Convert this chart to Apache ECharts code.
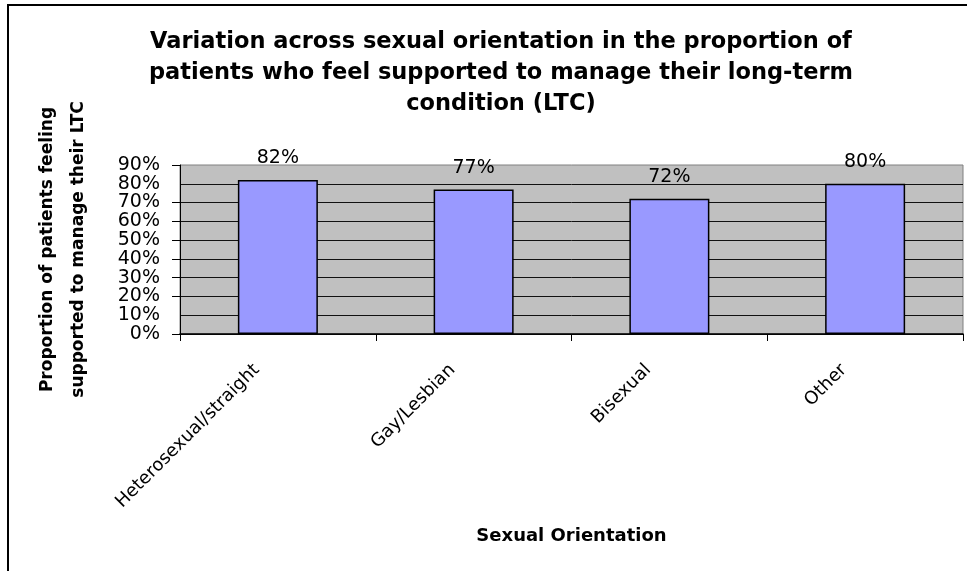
<!DOCTYPE html>
<html>
<head>
<meta charset="utf-8">
<script src="https://cdn.jsdelivr.net/npm/echarts@6/dist/echarts.min.js"></script>
<style>
  html, body { margin: 0; padding: 0; background: #fff; }
  #chart-panel { width: 967px; height: 571px; }
</style>
</head>
<body>
<div id="chart-panel"></div>
<script>
const categories = ["Heterosexual/straight", "Gay/Lesbian", "Bisexual", "Other"]
const values = [82, 77, 72, 80]
const yMin = 0
const yMax = 90
const yStep = 10

const font = "DejaVu Sans"
const chart = echarts.init(document.getElementById("chart-panel"), null, { renderer: "canvas" })

const yLabelStyle = {
  formatter: "{value}%",
  margin: 20,
  fontFamily: font,
  fontSize: 19,
  color: "#000"
}

const options = {
  backgroundColor: "#fff",
  animation: false,
  title: {
    text: "Variation across sexual orientation in the proportion of\npatients who feel supported to manage their long-term\ncondition (LTC)",
    left: 496,
    top: 22,
    textAlign: "center",
    textStyle: {
      fontFamily: font,
      fontWeight: "bold",
      fontSize: 22.5,
      lineHeight: 31,
      color: "#000"
    }
  },
  graphic: [
    {
      type: "rect",
      shape: { x: 8, y: 5, width: 1200, height: 800 },
      style: { fill: "none", stroke: "#000", lineWidth: 2 },
      silent: true
    }
  ],
  grid: {
    left: 180,
    right: 4,
    top: 165,
    bottom: 237,
    show: true,
    backgroundColor: "#C0C0C0",
    borderColor: "#808080",
    borderWidth: 1
  },
  xAxis: {
    type: "category",
    data: categories,
    name: "Sexual Orientation",
    nameLocation: "middle",
    nameGap: 193,
    nameTextStyle: {
      fontFamily: font,
      fontWeight: "bold",
      fontSize: 18,
      color: "#000"
    },
    axisLine: { lineStyle: { color: "#000", width: 1.5 } },
    axisTick: { show: true, length: 7, lineStyle: { color: "#000" } },
    axisLabel: {
      interval: 0,
      rotate: 45,
      margin: 12,
      padding: [0, 30, 0, 0],
      fontFamily: font,
      fontSize: 18,
      color: "#000"
    }
  },
  yAxis: [
    {
      type: "value",
      position: "left",
      min: yMin,
      max: yMax,
      interval: yStep,
      name: "Proportion of patients feeling\nsupported to manage their LTC",
      nameLocation: "middle",
      nameGap: 86,
      nameTextStyle: {
        fontFamily: font,
        fontWeight: "bold",
        fontSize: 17,
        lineHeight: 31,
        color: "#000"
      },
      axisLine: { show: true, lineStyle: { color: "#000", width: 1 } },
      axisTick: { show: true, length: 8, lineStyle: { color: "#000", width: 1 } },
      axisLabel: Object.assign({ showMinLabel: true, showMaxLabel: true }, yLabelStyle),
      splitLine: {
        show: true,
        showMaxLine: false,
        lineStyle: { color: "#111", width: 1 }
      }
    },
    {
      // second copy of the same scale, only to put back the labels next to min/max
      type: "value",
      position: "left",
      min: yMin,
      max: yMax,
      interval: yStep,
      axisLine: { show: false },
      axisTick: { show: false },
      splitLine: { show: false },
      axisLabel: Object.assign({}, yLabelStyle, {
        showMinLabel: false,
        showMaxLabel: false,
        formatter: (v) => (v === yMin + yStep || v === yMax - yStep ? v + "%" : "")
      })
    }
  ],
  series: [
    {
      type: "bar",
      data: values,
      barWidth: 80,
      itemStyle: {
        color: "#9999FF",
        borderColor: "#000",
        borderWidth: 1.5
      },
      label: {
        show: true,
        position: "top",
        distance: 12,
        formatter: "{c}%",
        fontFamily: font,
        fontSize: 19,
        color: "#000"
      }
    }
  ]
}
chart.setOption(options)
</script>
</body>
</html>
